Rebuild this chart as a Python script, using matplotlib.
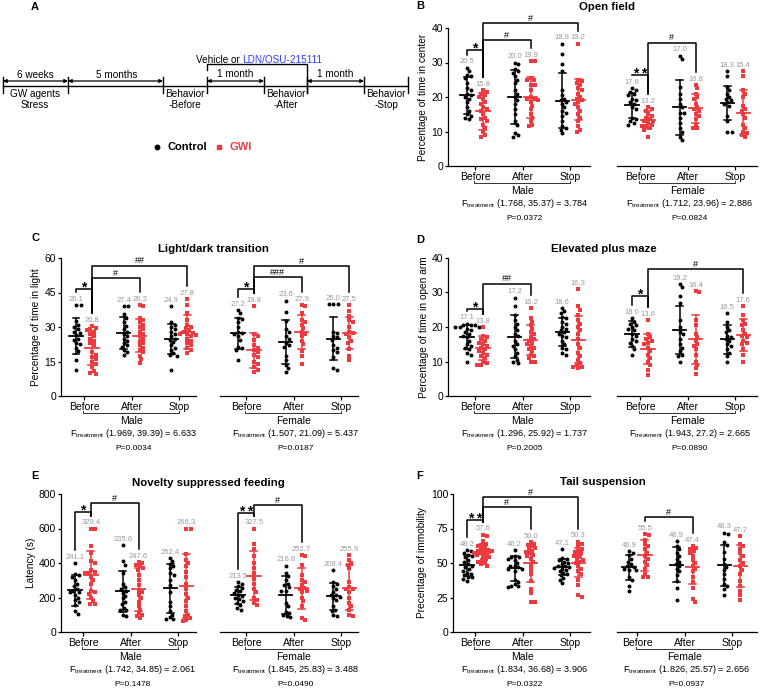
import matplotlib
matplotlib.use("Agg")
import matplotlib.pyplot as plt
from matplotlib.transforms import blended_transform_factory
import numpy as np

plt.rcParams['font.family'] = ['Liberation Sans', 'DejaVu Sans']
plt.rcParams['mathtext.fontset'] = 'custom'
plt.rcParams['mathtext.rm'] = 'Liberation Sans'
plt.rcParams['mathtext.it'] = 'Liberation Sans:italic'
plt.rcParams['mathtext.bf'] = 'Liberation Sans:bold'
plt.rcParams['axes.linewidth'] = 0.9

RED = '#ee3a3f'
GRAY = '#9a9a9a'

timepoints = ['Before', 'After', 'Stop']
# each list of groups: Before-Control, Before-GWI, After-Control, After-GWI, Stop-Control, Stop-GWI

# B: open field, % time in center
of_male_pts = [
    [28.5, 27.5, 26.5, 26, 25.5, 24, 22.5, 22, 21, 20.5, 20, 19.5, 18.5, 17, 16, 15, 14.5, 14, 13.5],
    [22, 21.5, 21, 20.5, 20, 19.5, 18.5, 18, 17, 16.5, 16, 15, 14, 13.5, 13, 12, 11, 10, 9, 8.5],
    [30, 29.5, 28, 27.5, 27, 26, 25, 24, 22, 21, 20, 19, 18, 16.5, 15, 13, 12, 9.5, 9, 8.5],
    [30.5, 30.5, 25.5, 25, 25, 23.5, 23.5, 22, 19.5, 19, 20, 19.5, 18.5, 17.5, 16.5, 15, 14, 13, 11.5, 12],
    [35.5, 32.5, 29.5, 27.5, 22, 20.5, 19.5, 19, 18.5, 18, 17, 16, 15.5, 14.5, 13, 11.5, 11, 10.5, 9.5],
    [35.5, 25, 24.5, 24, 23.5, 22.5, 22, 21, 20, 19.5, 19, 18.5, 18, 17, 16, 15, 14, 13, 11.5, 10.5, 10],
]
of_male_mean = [20.5, 15.8, 20.0, 19.9, 18.9, 19.2]
of_male_sd = [5.3, 5.5, 7.8, 6.0, 8.0, 6.0]
of_female_pts = [
    [22.5, 22, 21.5, 21, 20.5, 19.5, 19, 18.5, 18, 17, 16.5, 14, 13.5, 13, 12.5, 12],
    [17, 16.5, 16, 15, 14.5, 14, 13.5, 13, 13, 12.5, 12, 11.5, 11, 11.5, 10.5, 8.5],
    [32, 31, 23, 21, 19.5, 18, 17, 15.5, 15.5, 14, 12.5, 11, 10, 8.5, 7.5],
    [23.5, 22.5, 21, 20, 19.5, 18, 17, 16.5, 16, 15, 14.5, 13.5, 12, 11, 11],
    [27.5, 26, 23, 22, 21, 20, 19.5, 19, 18.5, 18, 17.5, 14.5, 13, 10, 10],
    [27.5, 26, 22, 21, 20, 17.5, 16.5, 16, 15, 14, 12, 11, 10, 9.5, 9, 8.5],
]
of_female_mean = [17.6, 13.2, 17.0, 16.8, 18.3, 15.4]
of_female_sd = [3.7, 2.6, 7.9, 4.2, 4.9, 6.5]
of_stats = [('(1.768, 35.37) = 3.784', 'P=0.0372'), ('(1.712, 23.96) = 2.886', 'P=0.0824')]

# C: light/dark transition, % time in light
ld_male_pts = [
    [39.5, 39.5, 32.5, 31, 30, 29, 28, 27.5, 26.5, 25, 24.5, 23, 22.5, 21, 19.5, 15.5, 11.5],
    [30.5, 29.5, 29, 28.5, 28, 27, 26, 25, 24, 23, 22, 19, 18, 17, 16, 15, 14, 12.5, 11, 10, 9.5],
    [39, 39, 35.5, 34, 32, 30.5, 29, 28, 27, 26, 25, 24, 23, 22, 21.5, 20, 19, 18],
    [39.5, 39, 34, 33, 32, 31, 30, 29, 28, 27, 26, 25, 24, 23, 22, 21, 20, 19, 17.5, 16, 14.5],
    [39, 32, 31, 30, 29, 28, 27, 26, 25, 24.5, 23.5, 22, 21, 20, 18.5, 18, 17.5, 11.5],
    [42, 39.5, 36, 33, 31, 30, 29.5, 28.5, 28, 27.5, 27, 27, 26.5, 26, 25, 24, 23, 22, 21, 20, 18.5],
]
ld_male_mean = [26.1, 20.8, 27.4, 26.3, 24.9, 27.8]
ld_male_sd = [7.8, 7.3, 7.0, 7.0, 6.5, 7.5]
ld_female_pts = [
    [37.5, 36, 34, 33.5, 32, 30, 28, 27.5, 27, 26, 24.5, 21.5, 21, 20, 15.5],
    [39, 27, 26, 24.5, 22, 21, 20, 19, 18, 17, 15, 14, 12.5, 11.5, 10.5],
    [41.5, 36.5, 32.5, 29, 28, 25, 26, 23, 21.5, 22, 17.5, 15.5, 13.5, 12, 10.5],
    [39.5, 39, 36, 33, 32, 31, 29.5, 28, 27, 26, 24, 22.5, 19.5, 17.5, 14],
    [40, 40, 40, 28, 27.5, 26, 25.5, 24.5, 22, 21, 20, 19, 17, 12, 11.5],
    [39.5, 37, 35, 33, 32, 30, 28, 27.5, 27, 25.5, 24, 23, 20.5, 17.5, 15.5],
]
ld_female_mean = [27.2, 19.8, 23.6, 27.9, 25.0, 27.5]
ld_female_sd = [6.7, 7.5, 9.5, 7.5, 9.3, 7.0]
ld_stats = [('(1.969, 39.39) = 6.633', 'P=0.0034'), ('(1.507, 21.09) = 5.437', 'P=0.0187')]

# D: elevated plus maze, % time in open arm
epm_male_pts = [
    [21, 20.5, 20.5, 20.5, 20, 20, 20, 19.5, 19, 18.5, 18, 17.5, 17, 16, 15, 14.5, 14, 13.5, 12.5, 12, 10],
    [20, 17.5, 17, 16.5, 16, 15.5, 15, 14.5, 14, 13.5, 13, 12.5, 12, 11.5, 11, 10, 9.5, 9, 9],
    [28.5, 26, 23.5, 22, 21, 20, 19, 18, 17.5, 16, 15, 14.5, 13.5, 12.5, 11.5, 10.5, 10, 9.5],
    [25.5, 22.5, 21.5, 20.5, 19.5, 18.5, 18, 17, 16.5, 16, 15.5, 15, 14.5, 14, 13.5, 13, 12, 11.5, 11, 10, 10],
    [25.5, 24.5, 24, 23, 22.5, 21.5, 21, 20, 19.5, 19, 18.5, 18, 17.5, 17, 16, 15, 14, 13.5, 12.5, 12],
    [31, 26, 25, 23.5, 22, 21, 20, 19, 18, 16.5, 15, 14, 12.5, 11.5, 10.5, 9.5, 9, 8.5, 8.5, 8],
]
epm_male_mean = [17.1, 13.8, 17.2, 16.2, 18.6, 16.3]
epm_male_sd = [3.4, 3.5, 6.2, 4.4, 4.0, 6.8]
epm_female_pts = [
    [22.5, 21.5, 21, 20.5, 20, 19.5, 19, 18, 17.5, 16.5, 16, 15.5, 14.5, 13.5, 12],
    [22, 18, 17, 16.5, 16, 15.5, 15, 14, 13, 12, 11, 10, 9, 7.5, 6],
    [32.5, 31.5, 29, 27, 22, 20, 18.5, 18, 16.5, 15, 14, 13, 12, 11.5, 10],
    [30.5, 30, 22, 20.5, 18, 17, 16, 15, 14.5, 13.5, 12, 10, 9, 8, 6.5],
    [24, 21.5, 20, 19, 18.5, 17.5, 17, 16.5, 16, 15, 14.5, 13.5, 12.5, 11.5, 10],
    [26, 23.5, 22, 21, 20.5, 19, 18, 17.5, 17, 16, 15.5, 15, 13.5, 12, 10],
]
epm_female_mean = [18.0, 13.6, 19.2, 16.4, 16.5, 17.6]
epm_female_sd = [3.7, 4.3, 7.0, 7.0, 4.2, 4.7]
epm_stats = [('(1.296, 25.92) = 1.737', 'P=0.2005'), ('(1.943, 27.2) = 2.665', 'P=0.0890')]

# E: novelty suppressed feeding, latency (s)
nsf_male_pts = [
    [400, 335, 330, 320, 300, 280, 265, 250, 240, 230, 215, 230, 185, 200, 155, 175, 120, 105],
    [600, 600, 500, 460, 410, 400, 360, 340, 350, 340, 320, 300, 280, 240, 220, 230, 200, 180, 165, 160],
    [505, 410, 390, 340, 280, 250, 260, 240, 225, 210, 195, 175, 160, 140, 130, 125, 100, 90],
    [405, 400, 390, 380, 370, 360, 330, 300, 270, 240, 230, 215, 200, 175, 150, 130, 110, 100, 90, 80],
    [430, 410, 395, 385, 370, 340, 330, 300, 270, 230, 175, 150, 120, 100, 85, 75, 75],
    [600, 600, 450, 420, 400, 380, 350, 320, 280, 250, 220, 200, 180, 150, 120, 100, 90, 80, 70, 65],
]
nsf_male_mean = [241.1, 329.4, 235.6, 247.6, 252.4, 266.3]
nsf_male_sd = [88, 140, 118, 125, 142, 185]
nsf_female_pts = [
    [290, 280, 265, 255, 245, 235, 225, 215, 210, 200, 190, 180, 170, 155, 140, 130],
    [600, 510, 480, 440, 400, 370, 340, 310, 280, 250, 230, 200, 185, 170, 155],
    [385, 340, 325, 300, 280, 270, 260, 240, 240, 170, 150, 115, 110, 100, 90, 85],
    [445, 440, 390, 330, 300, 290, 270, 255, 250, 240, 230, 200, 180, 150, 80, 70],
    [360, 290, 280, 265, 250, 230, 215, 205, 215, 200, 185, 150, 130, 120, 100, 95],
    [445, 420, 400, 390, 370, 290, 260, 250, 250, 230, 200, 170, 150, 130, 100, 95],
]
nsf_female_mean = [213.5, 327.5, 216.8, 252.7, 208.4, 255.9]
nsf_female_sd = [50, 140, 110, 117, 78, 130]
nsf_stats = [('(1.742, 34.85) = 2.061', 'P=0.1478'), ('(1.845, 25.83) = 3.488', 'P=0.0490')]

# F: tail suspension, % immobility
ts_male_pts = [
    [59.5, 58.5, 57.5, 56, 55, 54, 52, 50.5, 49, 48, 47, 46, 44.5, 43, 42, 41, 40, 39.5, 38.5, 37],
    [70.5, 69.5, 66, 64, 63, 62, 61, 60, 59.5, 59, 58.5, 58, 57.5, 57, 56, 55.5, 55, 54, 53, 52, 51, 50, 49, 48],
    [59.5, 55, 54.5, 54, 53, 52, 50, 48, 46, 48, 47, 46, 44, 37.5, 36, 34.5, 33.5, 33, 32.5],
    [65, 64, 63, 62, 61, 60, 59, 58, 57, 56, 55, 53, 51, 48, 45, 42, 37, 31, 28, 22, 22],
    [60, 53.5, 53, 52, 51, 50, 49, 48, 47.5, 47, 46.5, 46, 45, 44, 43, 42, 41, 39, 38, 35.5],
    [65.5, 64, 62, 60.5, 59, 58, 57, 56, 55, 54, 53, 52, 51, 50, 48, 46, 44, 42, 38, 34, 27, 25.5],
]
ts_male_mean = [48.2, 57.6, 46.2, 50.0, 47.1, 50.3]
ts_male_sd = [7.5, 6.0, 9.0, 14.0, 5.5, 10.5]
ts_female_pts = [
    [58.5, 57, 55.5, 53, 51, 49, 47.5, 46, 45, 47, 45, 40, 38, 33.5, 30],
    [71, 70, 67, 64, 62, 60, 57.5, 55, 53, 51, 48.5, 46, 42, 40, 39.5],
    [66, 62, 60, 57, 55, 53, 51, 49.5, 48, 46, 44, 41, 37, 32, 23.5],
    [62, 61, 60, 58.5, 57, 55, 52, 50, 48, 46, 44, 40, 36, 32, 24, 22],
    [72, 71, 65, 63, 58, 53, 49.5, 47, 45, 42, 38.5, 35, 33, 31.5, 27],
    [69.5, 64, 62, 60, 57, 55, 52, 50, 47.5, 45, 42, 37, 33, 30, 27, 23],
]
ts_female_mean = [46.9, 55.5, 48.9, 47.4, 48.3, 47.7]
ts_female_sd = [9.0, 11.0, 12.5, 12.5, 15.0, 15.0]
ts_stats = [('(1.834, 36.68) = 3.906', 'P=0.0322'), ('(1.826, 25.57) = 2.656', 'P=0.0937')]

# significance brackets: (label, from x, to x, height)
of_male_sig = [('*', 0, 1, 33.5), ('#', 1, 4, 36.5), ('#', 1, 7, 41.4)]
of_female_sig = [('**', 0, 1, 26.4), ('#', 1, 4, 35.7)]
ld_male_sig = [('*', 0, 1, 46.4), ('#', 1, 4, 51.3), ('##', 1, 7, 56.6)]
ld_female_sig = [('*', 0, 1, 46.5), ('###', 1, 4, 51.7), ('#', 1, 7, 56.5)]
epm_male_sig = [('*', 0, 1, 25.2), ('##', 1, 4, 32.5)]
epm_female_sig = [('*', 0, 1, 29.0), ('#', 1, 7, 36.8)]
nsf_male_sig = [('*', 0, 1, 696), ('#', 1, 4, 748)]
nsf_female_sig = [('**', 0, 1, 690), ('#', 1, 4, 736)]
ts_male_sig = [('**', 0, 1, 81), ('#', 1, 4, 90.6), ('#', 1, 7, 97.8)]
ts_female_sig = [('#', 1, 4, 83.3)]

W, H = 762, 692
S = 15.9  # pixels per x unit

fig = plt.figure(figsize=(W / 100, H / 100), dpi=100)
canvas = fig.add_axes([0, 0, 1, 1])
canvas.set_xlim(0, W)
canvas.set_ylim(H, 0)
canvas.axis('off')


def txt(x, y, s, **kw):
    kw.setdefault('ha', 'center')
    kw.setdefault('va', 'center')
    kw.setdefault('fontsize', 7.2)
    canvas.text(x, y, s, **kw)


# ---- panel A: timeline ----
txt(35, 7, 'A', fontsize=8, fontweight='bold')
canvas.plot([3, 408], [86, 86], color='k', lw=1.0)
for x in [3, 68, 163, 207, 264, 307, 364, 408]:
    canvas.plot([x, x], [77, 93], color='k', lw=1.0)
for a, b in [(3, 68), (68, 163), (207, 264), (307, 364)]:
    canvas.annotate('', xy=(b, 81), xytext=(a, 81),
                    arrowprops=dict(arrowstyle='<|-|>', color='k', lw=0.9,
                                    shrinkA=0, shrinkB=0, mutation_scale=5))
txt(35, 75, '6 weeks')
txt(117, 75, '5 months')
txt(235, 74, '1 month')
txt(335, 74, '1 month')
txt(35, 94, 'GW agents')
txt(35, 105, 'Stress')
for xc, sub in [(185, '-Before'), (286, '-After'), (386, '-Stop')]:
    txt(xc, 94, 'Behavior')
    txt(xc, 105, sub)
canvas.plot([207, 207, 307, 307], [70, 64, 64, 93], color='k', lw=1.0)
txt(240, 60, 'Vehicle or', ha='right')
txt(242, 60, 'LDN/OSU-215111', ha='left', color='#2a3cff')
canvas.plot([157], [147], 'o', color='k', ms=3.2)
txt(167, 147, 'Control', ha='left', fontsize=8, fontweight='bold')
canvas.plot([219], [147], 's', color=RED, ms=3.0)
txt(229, 147, 'GWI', ha='left', fontsize=8, fontweight='bold', color=RED)


def swarm(vals, ppv, d=3.7, step=0.9):
    ys = np.asarray(vals, float) * ppv
    out = np.zeros(len(ys))
    placed = []
    for i in np.argsort(-ys):
        k = 0
        while True:
            mag = ((k + 1) // 2) * step
            off = mag if k % 2 else -mag
            if all((off - px) ** 2 + (ys[i] - py) ** 2 >= d * d for px, py in placed):
                break
            k += 1
        placed.append((off, ys[i]))
        out[i] = off
    return out / S


def xpos(i):
    return (i // 2) * 3 + (i % 2)


def draw_half(left, right, x0, top, bottom, ymax, yticks, pts, means, sds, sig,
              stats, sex, show_y):
    h = bottom - top
    ppv = h / ymax
    ax = fig.add_axes([left / W, 1 - bottom / H, (right - left) / W, h / H])
    ax.set_xlim((left - x0) / S, (right - x0) / S)
    ax.set_ylim(0, ymax)
    ax.patch.set_alpha(0)
    ax.spines['top'].set_visible(False)
    ax.spines['right'].set_visible(False)
    ax.set_xticks([0.5, 3.5, 6.5])
    ax.set_xticklabels(timepoints, fontsize=7.5)
    ax.tick_params(axis='x', length=3, width=0.9, pad=1.5)
    if show_y:
        ax.set_yticks(yticks)
        ax.tick_params(axis='y', length=2.5, width=0.9, pad=1.0, labelsize=7.5)
    else:
        ax.spines['left'].set_visible(False)
        ax.set_yticks([])

    tops = []
    for i, (vals, m, sd) in enumerate(zip(pts, means, sds)):
        x = xpos(i)
        ctrl = i % 2 == 0
        c = 'k' if ctrl else RED
        ax.scatter(x + swarm(vals, ppv), vals, s=8, marker='o' if ctrl else 's',
                   color=c, lw=0, zorder=3, clip_on=False)
        ax.plot([x - 0.42, x + 0.42], [m, m], color=c, lw=1.3, zorder=4)
        ax.plot([x, x], [m - sd, m + sd], color=c, lw=1.1, zorder=4)
        for yy in (m - sd, m + sd):
            ax.plot([x - 0.22, x + 0.22], [yy, yy], color=c, lw=1.1, zorder=4)
        tp = max(max(vals), m + sd)
        tops.append(tp)
        ax.annotate(f'{m:.1f}', (x, tp), xytext=(0, 1.6), textcoords='offset points',
                    ha='center', va='bottom', fontsize=5.5, color=GRAY,
                    annotation_clip=False)

    for label, x1, x2, yt in sig:
        def leg(xv):
            idx = (xv // 3) * 2 + xv % 3
            return min(yt, tops[idx] + 13 / ppv)
        ax.plot([x1, x1, x2, x2], [leg(x1), yt, yt, leg(x2)], color='k', lw=1.1,
                clip_on=False, zorder=5)
        xm = (x1 + x2) / 2
        if label.startswith('*'):
            n = len(label)
            for k in range(n):
                ax.annotate('*', (xm, yt), xytext=((k - (n - 1) / 2) * 5.8, -1.8),
                            textcoords='offset points', ha='center', va='baseline',
                            fontsize=10, fontweight='bold', annotation_clip=False)
        else:
            ax.annotate(label, (xm, yt), xytext=(0, 0.3), textcoords='offset points',
                        ha='center', va='bottom', fontsize=6.5, annotation_clip=False)

    tr = blended_transform_factory(ax.transData, ax.transAxes)
    ax.plot([0.45, 0.45, 6.5, 6.5], [-15 / h, -17 / h, -17 / h, -15 / h], transform=tr,
            clip_on=False, color='#333333', lw=0.7)
    xc = x0 + 3.5 * S
    txt(xc, bottom + 25, sex, fontsize=7.5)
    txt(xc + 2, bottom + 38, r'F$_{\mathrm{treatment}}$ ' + stats[0], fontsize=6.6)
    txt(xc + 2, bottom + 53, stats[1], fontsize=6.0)
    return ax


def draw_panel(letter, lpos, title, tpos, ylabel, ylx, top, bottom, ymax, yticks,
               male_box, female_box, male, female, stats):
    txt(*lpos, letter, fontsize=8, fontweight='bold')
    txt(*tpos, title, fontsize=8.2, fontweight='bold')
    txt(ylx, (top + bottom) / 2, ylabel, rotation=90, fontsize=7.3)
    draw_half(*male_box, top, bottom, ymax, yticks, *male, stats[0], 'Male', True)
    draw_half(*female_box, top, bottom, ymax, yticks, *female, stats[1], 'Female', False)


draw_panel('B', (420, 6), 'Open field', (607, 7), 'Percentage of time in center', 423,
           28, 166, 40, [0, 10, 20, 30, 40], (448, 590, 467), (617, 757, 632),
           (of_male_pts, of_male_mean, of_male_sd, of_male_sig),
           (of_female_pts, of_female_mean, of_female_sd, of_female_sig), of_stats)
draw_panel('C', (35, 238), 'Light/dark transition', (213, 249), 'Percentage of time in light', 36,
           258, 396, 60, [0, 15, 30, 45, 60], (61, 196, 76), (220, 358, 238),
           (ld_male_pts, ld_male_mean, ld_male_sd, ld_male_sig),
           (ld_female_pts, ld_female_mean, ld_female_sd, ld_female_sig), ld_stats)
draw_panel('D', (420, 240), 'Elevated plus maze', (604, 249), 'Percentage of time in open arm', 424,
           258, 396, 40, [0, 10, 20, 30, 40], (448, 590, 467), (617, 757, 632),
           (epm_male_pts, epm_male_mean, epm_male_sd, epm_male_sig),
           (epm_female_pts, epm_female_mean, epm_female_sd, epm_female_sig), epm_stats)
draw_panel('E', (35, 476), 'Novelty suppressed feeding', (208, 483), 'Latency (s)', 31,
           494, 632, 800, [0, 200, 400, 600, 800], (61, 196, 75), (220, 358, 238),
           (nsf_male_pts, nsf_male_mean, nsf_male_sd, nsf_male_sig),
           (nsf_female_pts, nsf_female_mean, nsf_female_sd, nsf_female_sig), nsf_stats)
draw_panel('F', (420, 476), 'Tail suspension', (603, 482), 'Precentage of immobility', 422,
           494, 632, 100, [0, 25, 50, 75, 100], (453, 590, 467), (617, 757, 629),
           (ts_male_pts, ts_male_mean, ts_male_sd, ts_male_sig),
           (ts_female_pts, ts_female_mean, ts_female_sd, ts_female_sig), ts_stats)

fig.savefig('out.png', dpi=100)
